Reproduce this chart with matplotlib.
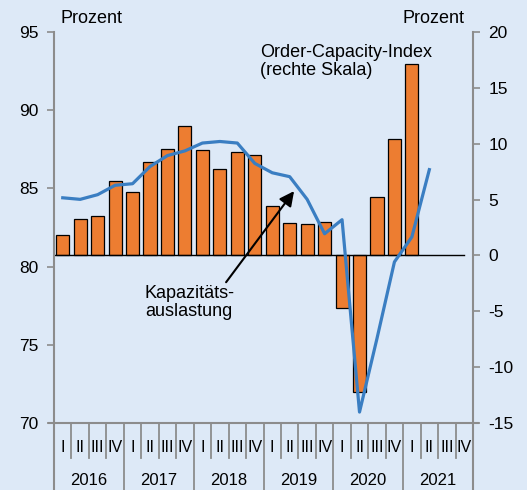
import numpy as np
import matplotlib.pyplot as plt

plt.rcParams['font.family'] = ['Liberation Sans', 'DejaVu Sans']
plt.rcParams['axes.unicode_minus'] = False

years = ['2016', '2017', '2018', '2019', '2020', '2021']
quarters = ['I', 'II', 'III', 'IV']

# Order-Capacity-Index (rechte Skala), bars
oci = [1.8, 3.3, 3.5, 6.7, 5.7, 8.4, 9.5, 11.6, 9.4, 7.7, 9.3, 9.0,
       4.4, 2.9, 2.8, 3.0, -4.7, -12.2, 5.2, 10.4, 17.1]
# Kapazitaetsauslastung (linke Skala), line
kap = [84.4, 84.3, 84.6, 85.2, 85.3, 86.4, 87.1, 87.4, 87.9, 88.0, 87.9, 86.6,
       86.0, 85.75, 84.3, 82.1, 83.0, 70.7, 75.4, 80.3, 81.9, 86.2]

bg = '#dde9f7'
grey = '#8c8c8c'

fig = plt.figure(figsize=(5.27, 4.9), dpi=100, facecolor=bg)
ax = fig.add_axes([0.1025, 0.1367, 0.795, 0.798])
ax.set_facecolor(bg)
ax2 = ax.twinx()

n_q = len(years) * 4
x_bar = np.arange(len(oci))
x_line = np.arange(len(kap))

ax.bar(x_bar, oci, width=0.75, color='#ed7d31', edgecolor='black', linewidth=0.9, zorder=2)
ax.plot([-0.45, n_q - 1], [0, 0], color='black', lw=1.0, zorder=3)
ax.set_ylim(-15, 20)
ax.set_xlim(-0.5, n_q - 0.5)
ax.yaxis.tick_right()
ax.set_yticks(np.arange(-15, 21, 5))

ax2.plot(x_line, kap, color='#3a7ec2', lw=2.3, zorder=4)
ax2.set_ylim(70, 95)
ax2.yaxis.tick_left()
ax2.set_yticks(np.arange(70, 96, 5))

for a in (ax, ax2):
    for s in a.spines.values():
        s.set_visible(False)
    a.tick_params(axis='y', direction='out', length=5, width=1.2, color=grey,
                  labelsize=12.5, pad=6)
    a.set_xticks([])

# spines drawn by hand so they run down to the figure edge
tr = ax.transAxes
ax.plot([0, 0], [1, -0.175], transform=tr, color=grey, lw=1.5, clip_on=False, zorder=5)
ax.plot([1, 1], [1, -0.175], transform=tr, color=grey, lw=1.5, clip_on=False, zorder=5)
ax.plot([-0.013, 1.013], [0, 0], transform=tr, color=grey, lw=1.5, clip_on=False, zorder=5)

# category axis: quarters and years
xt = ax.get_xaxis_transform()
for i in range(n_q):
    ax.text(i, -0.062, quarters[i % 4], transform=xt, ha='center', va='center',
            fontsize=11.5, clip_on=False)
    if i > 0:
        y_end = -0.175 if i % 4 == 0 else -0.089
        ax.plot([i - 0.5, i - 0.5], [0, y_end], transform=xt, color=grey, lw=1.3,
                clip_on=False)
for j, yr in enumerate(years):
    ax.text(j * 4 + 1.5, -0.146, yr, transform=xt, ha='center', va='center',
            fontsize=12, clip_on=False)

fig.text(0.114, 0.963, 'Prozent', fontsize=13, ha='left', va='center')
fig.text(0.881, 0.963, 'Prozent', fontsize=13, ha='right', va='center')

ax.text(0.493, 0.874, 'Order-Capacity-Index\n(rechte Skala)', transform=fig.transFigure,
        fontsize=13, ha='left', va='center', linespacing=1.05)
ax.text(0.275, 0.383, 'Kapazitäts-\nauslastung', transform=fig.transFigure,
        fontsize=13, ha='left', va='center', linespacing=1.05)
ax.annotate('', xy=(0.558, 0.61), xytext=(0.429, 0.424),
            xycoords='figure fraction', textcoords='figure fraction',
            arrowprops=dict(arrowstyle='-|>', color='black', lw=1.5,
                            mutation_scale=22, shrinkA=0, shrinkB=0), zorder=6)

fig.savefig('out.png', dpi=100, facecolor=bg)
